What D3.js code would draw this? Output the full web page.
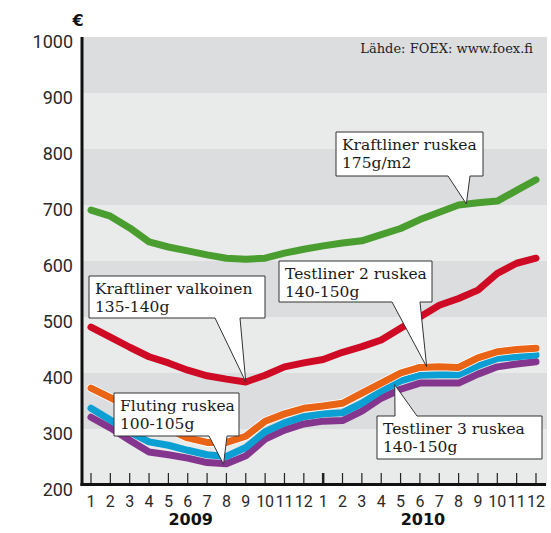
<!DOCTYPE html>
<html>
<head>
<meta charset="utf-8">
<script src="https://cdn.jsdelivr.net/npm/d3@7"></script>
<style>
  body { margin: 0; background: #fff; }
</style>
</head>
<body>
<div id="chart"></div>
<script>
// Data (kuukausittain 1/2009 - 12/2010)
const months = [1,2,3,4,5,6,7,8,9,10,11,12,1,2,3,4,5,6,7,8,9,10,11,12];
const years = ['2009', '2010'];
const yTicks = [200, 300, 400, 500, 600, 700, 800, 900, 1000];

const kraftlinerRuskea = [691,680,659,634,625,618,611,605,603,605,614,621,627,632,636,647,658,674,687,700,704,707,726,745];
const kraftlinerValkoinen = [482,464,446,429,418,405,395,389,384,396,411,418,424,437,447,459,480,500,521,533,548,578,596,605];
const testliner2 = [373,356,338,318,300,284,276,276,287,314,327,337,341,346,364,382,400,410,411,410,427,438,442,444];
const flutingRuskea = [337,316,295,277,271,262,254,251,267,295,311,322,327,329,346,368,386,396,397,397,413,426,429,432];
const testliner3 = [321,302,280,259,254,248,240,238,252,282,298,309,314,315,332,355,371,382,382,382,398,411,416,420];

const width = 551, height = 533;
const plot = {left: 82, right: 547, top: 37, bottom: 485};

const svg = d3.select('#chart')
    .append('svg')
    .attr('width', width)
    .attr('height', height);

const x = d3.scaleLinear()
    .domain([0, months.length - 1])
    .range([91, 536]);

const y = d3.scaleLinear()
    .domain([200, 1000])
    .range([plot.bottom, plot.top]);

// Taustaraidat
svg.append('g')
    .selectAll('rect')
    .data(yTicks.slice(0, -1))
    .enter()
    .append('rect')
    .attr('x', plot.left)
    .attr('width', plot.right - plot.left)
    .attr('y', d => y(d + 100))
    .attr('height', d => y(d) - y(d + 100))
    .attr('fill', d => (d / 100) % 2 === 1 ? '#dcdddf' : '#e9eaea');

// Y-akselin luvut
svg.append('g')
    .selectAll('text')
    .data(yTicks)
    .enter()
    .append('text')
    .attr('x', 73)
    .attr('y', d => y(d) + 11)
    .attr('text-anchor', 'end')
    .style('font-family', 'Roboto, sans-serif')
    .style('font-size', '18px')
    .attr('fill', '#2a2a2a')
    .text(d => d);

svg.append('text')
    .attr('x', 78)
    .attr('y', 26)
    .attr('text-anchor', 'middle')
    .style('font-family', 'DejaVu Sans, sans-serif')
    .style('font-weight', 'bold')
    .style('font-size', '16px')
    .attr('fill', '#111')
    .text('€');

// Lähde
svg.append('text')
    .attr('x', 533)
    .attr('y', 53)
    .attr('text-anchor', 'end')
    .style('font-family', 'DejaVu Serif, serif')
    .style('font-size', '13px')
    .attr('fill', '#222')
    .text('Lähde: FOEX: www.foex.fi');

// Viivat
const line = d3.line()
    .x((d, i) => x(i))
    .y(d => y(d));

const series = [
    {values: testliner3, color: '#84368e'},
    {values: flutingRuskea, color: '#0b9fd3'},
    {values: testliner2, color: '#ea6416', casing: true},
    {values: kraftlinerValkoinen, color: '#cf0a24'},
    {values: kraftlinerRuskea, color: '#4a9e2f'}
];

series.forEach(s => {
    if (s.casing) {
        svg.append('path')
            .datum(s.values)
            .attr('d', line)
            .attr('fill', 'none')
            .attr('stroke', '#fff')
            .attr('stroke-width', 8.5)
            .attr('stroke-linejoin', 'round')
            .attr('stroke-linecap', 'round');
    }
    svg.append('path')
        .datum(s.values)
        .attr('d', line)
        .attr('fill', 'none')
        .attr('stroke', s.color)
        .attr('stroke-width', 7)
        .attr('stroke-linejoin', 'round')
        .attr('stroke-linecap', 'round');
});

// Akselit
svg.append('g')
    .selectAll('line')
    .data(months)
    .enter()
    .append('line')
    .attr('x1', (d, i) => x(i))
    .attr('x2', (d, i) => x(i))
    .attr('y1', 473)
    .attr('y2', plot.bottom)
    .attr('stroke', '#222')
    .attr('stroke-width', (d, i) => i === 12 ? 2.5 : 1.2);

svg.append('line')
    .attr('x1', plot.left)
    .attr('x2', plot.left)
    .attr('y1', plot.top)
    .attr('y2', plot.bottom + 1)
    .attr('stroke', '#111')
    .attr('stroke-width', 3);

svg.append('line')
    .attr('x1', plot.left - 1.5)
    .attr('x2', plot.right - 1)
    .attr('y1', plot.bottom - 0.5)
    .attr('y2', plot.bottom - 0.5)
    .attr('stroke', '#111')
    .attr('stroke-width', 3);

svg.append('g')
    .selectAll('text')
    .data(months)
    .enter()
    .append('text')
    .attr('x', (d, i) => x(i))
    .attr('y', 507)
    .attr('text-anchor', 'middle')
    .style('font-family', 'Roboto, sans-serif')
    .style('font-size', '16px')
    .attr('fill', '#2a2a2a')
    .text(d => d);

svg.append('g')
    .selectAll('text')
    .data(years)
    .enter()
    .append('text')
    .attr('x', (d, i) => x(i * 12 + 5) + 3)
    .attr('y', 525)
    .attr('text-anchor', 'middle')
    .style('font-family', 'DejaVu Sans, sans-serif')
    .style('font-weight', 'bold')
    .style('font-size', '16px')
    .attr('fill', '#111')
    .text(d => d);

// Selitelaatikot
const callouts = [
    {lines: ['Kraftliner ruskea', '175g/m2'], box: [336, 132, 147, 44], side: 'bottom', base: [448, 470], tip: [19.4, 702]},
    {lines: ['Kraftliner valkoinen', '135-140g'], box: [89, 276, 176, 42], side: 'bottom', base: [215, 240], tip: [8, 384]},
    {lines: ['Testliner 2 ruskea', '140-150g'], box: [279, 261, 153, 41], side: 'bottom', base: [392, 420], tip: [17.35, 411]},
    {lines: ['Fluting ruskea', '100-105g'], box: [114, 393, 125, 43], side: 'bottom', base: [209, 227], tip: [6.85, 237]},
    {lines: ['Testliner 3 ruskea', '140-150g'], box: [377, 416, 165, 43], side: 'top', base: [395, 417], tip: [15.7, 379]}
];

callouts.forEach(c => {
    const [bx, by, bw, bh] = c.box;
    const tx = x(c.tip[0]), ty = y(c.tip[1]);
    let d;
    if (c.side === 'bottom') {
        d = `M${bx},${by}H${bx + bw}V${by + bh}H${c.base[1]}L${tx},${ty}L${c.base[0]},${by + bh}H${bx}Z`;
    } else {
        d = `M${bx},${by}H${c.base[0]}L${tx},${ty}L${c.base[1]},${by}H${bx + bw}V${by + bh}H${bx}Z`;
    }
    svg.append('path')
        .attr('d', d)
        .attr('fill', '#fff')
        .attr('stroke', '#333')
        .attr('stroke-width', 1);

    svg.append('g')
        .selectAll('text')
        .data(c.lines)
        .enter()
        .append('text')
        .attr('x', bx + 6)
        .attr('y', (t, i) => by + 18 + i * 18)
        .style('font-family', 'DejaVu Serif, serif')
        .style('font-size', '15.5px')
        .attr('fill', '#1a1a1a')
        .text(t => t);
});
</script>
</body>
</html>
